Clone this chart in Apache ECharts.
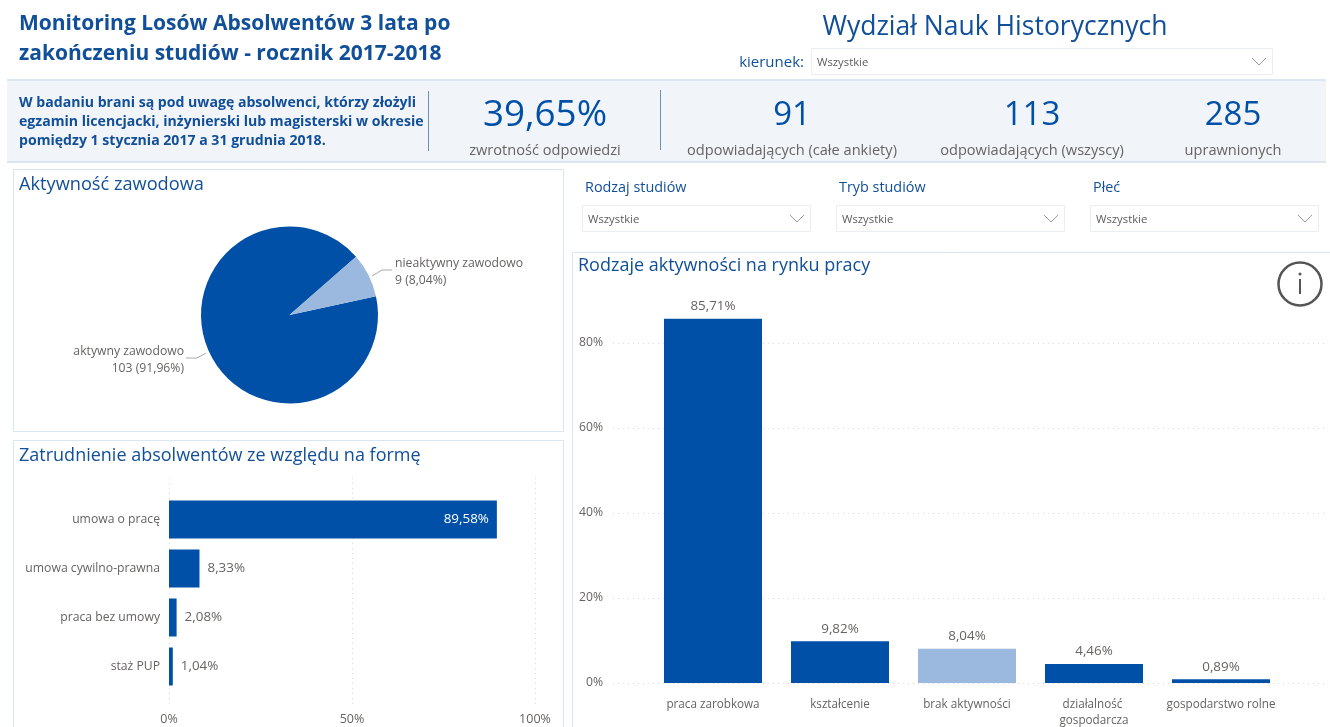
<!DOCTYPE html>
<html lang="pl"><head><meta charset="utf-8">
<style>html,body{margin:0;padding:0;background:#fff}#c{width:1330px;height:727px}</style>
<script src="https://cdn.jsdelivr.net/npm/echarts@6/dist/echarts.min.js"></script>
</head><body><div id="c"></div>
<script>
const pieNames = ['aktywny zawodowo', 'nieaktywny zawodowo'];
const pieValues = [103, 9];
const formCategories = ['umowa o pracę', 'umowa cywilno-prawna', 'praca bez umowy', 'staż PUP'];
const formValues = [89.58, 8.33, 2.08, 1.04];
const activityCategories = ['praca zarobkowa', 'kształcenie', 'brak aktywności', 'działalność gospodarcza', 'gospodarstwo rolne'];
const activityValues = [85.71, 9.82, 8.04, 4.46, 0.89];
const kpis = [['39,65%', 'zwrotność odpowiedzi', 545], ['91', 'odpowiadających (całe ankiety)', 792], ['113', 'odpowiadających (wszyscy)', 1032], ['285', 'uprawnionych', 1233]];
const slicers = [['Rodzaj studiów', 582], ['Tryb studiów', 836], ['Płeć', 1090]];

const FONT = '"Open Sans", "Noto Sans", sans-serif';
const NAVY = '#0050a8', LIGHT = '#9bb9de', TITLE = '#114f98', GRAY = '#666462', EDGE = '#d8e5f2';
const pct = v => v.toFixed(2).replace('.', ',') + '%';
const txt = (x, y, t, size, fill, extra) => ({type: 'text', z: 5, style: Object.assign({x, y, text: t, fontFamily: FONT, fontSize: size, fill, textVerticalAlign: 'middle', verticalAlign: 'middle'}, extra || {})});
const box = (x, y, w, h, fill, stroke, lw) => ({type: 'rect', z: -1, shape: {x, y, width: w, height: h}, style: {fill: fill || 'none', stroke: stroke || 'none', lineWidth: lw || 1}});
const chevron = (x, y) => ({type: 'polyline', z: 5, shape: {points: [[x, y], [x + 7, y + 7], [x + 14, y]]}, style: {fill: 'none', stroke: '#9a9a9a', lineWidth: 1}});
const dropdown = (x, y, w) => [box(x + .5, y + .5, w, 26, '#fff', '#eaeef3'), txt(x + 6, y + 14.5, 'Wszystkie', 11.3, '#5c5c5c'), chevron(x + w - 20, y + 10)];

const g = [
  box(7, 80, 1319, 82, '#f1f5fa'),
  box(7, 79, 1319, 2, '#dce6f1'), box(7, 161, 1319, 2, '#dce6f1'),
  box(13.5, 169.5, 550, 262, '#fff', EDGE), box(13.5, 440.5, 550, 300, '#fff', EDGE), box(572.5, 252.5, 770, 500, '#fff', EDGE),
  txt(19, 24, 'Monitoring Losów Absolwentów 3 lata po', 21, TITLE, {fontWeight: 'bold'}),
  txt(19, 54, 'zakończeniu studiów - rocznik 2017-2018', 21, TITLE, {fontWeight: 'bold'}),
  txt(995, 27, 'Wydział Nauk Historycznych', 26.5, TITLE, {textAlign: 'center', align: 'center'}),
  txt(804, 63, 'kierunek:', 15, TITLE, {textAlign: 'right', align: 'right'}),
  ...dropdown(811, 48, 461),
  txt(19, 102.5, 'W badaniu brani są pod uwagę absolwenci, którzy złożyli', 14.1, TITLE, {fontWeight: 'bold'}),
  txt(19, 122, 'egzamin licencjacki, inżynierski lub magisterski w okresie', 14.1, TITLE, {fontWeight: 'bold'}),
  txt(19, 141, 'pomiędzy 1 stycznia 2017 a 31 grudnia 2018.', 14.1, TITLE, {fontWeight: 'bold'}),
  box(428, 91, 1, 60, '#6d8fb8'), box(660, 90, 1, 60, '#6d8fb8'),
  ...kpis.flatMap(k => [
    txt(k[2], 115.5, k[0], k[0].length > 3 ? 36.8 : 33, NAVY, {textAlign: 'center', align: 'center'}),
    txt(k[2], 150.5, k[1], 14.6, GRAY, {textAlign: 'center', align: 'center'})]),
  txt(19, 185, 'Aktywność zawodowa', 18.2, TITLE),
  txt(19, 456, 'Zatrudnienie absolwentów ze względu na formę', 18, TITLE),
  txt(578, 266, 'Rodzaje aktywności na rynku pracy', 18, TITLE),
  ...slicers.flatMap(s => [txt(s[1] + 3, 187.5, s[0], 14.4, TITLE), ...dropdown(s[1], 205, 228)]),
  {type: 'circle', z: 5, shape: {cx: 1300, cy: 284, r: 21.5}, style: {fill: 'none', stroke: '#555', lineWidth: 2.5}},
  {type: 'rect', z: 5, shape: {x: 1299, y: 279, width: 2, height: 15}, style: {fill: '#555'}},
  {type: 'circle', z: 5, shape: {cx: 1300, cy: 274, r: 1.5}, style: {fill: '#555'}}
];

const dotted = {show: true, lineStyle: {type: [1, 4], color: '#d8d8d8', width: 1}};
const gridBase = {outerBoundsMode: 'none', containLabel: false};
const option = {
  animation: false,
  textStyle: {fontFamily: FONT},
  graphic: {elements: g},
  grid: [
    {...gridBase, left: 169, width: 366, top: 478, height: 230},
    {...gridBase, left: 169, width: 366, top: 495, height: 196},
    {...gridBase, left: 613, width: 712, top: 300.5, height: 382.5},
    {...gridBase, left: 649.5, width: 635, top: 300.5, height: 382.5}
  ],
  xAxis: [
    {gridIndex: 0, type: 'value', min: 0, max: 100, interval: 50, splitLine: dotted, axisLine: {show: false}, axisTick: {show: false},
     axisLabel: {color: GRAY, fontSize: 12.5, margin: 5, formatter: '{value}%'}},
    {gridIndex: 1, type: 'value', min: 0, max: 100, show: false},
    {gridIndex: 2, type: 'category', data: [''], show: false},
    {gridIndex: 3, type: 'category', data: activityCategories, axisLine: {show: false}, axisTick: {show: false},
     axisLabel: {color: GRAY, fontSize: 11.7, margin: 13, interval: 0, lineHeight: 16.5, width: 115, overflow: 'break'}}
  ],
  yAxis: [
    {gridIndex: 0, type: 'value', min: 0, max: 1, show: false},
    {gridIndex: 1, type: 'category', inverse: true, data: formCategories, axisLine: {show: false}, axisTick: {show: false},
     axisLabel: {color: GRAY, fontSize: 12.2, margin: 9, padding: [0, 0, 3, 0]}},
    {gridIndex: 2, type: 'value', min: 0, max: 90, interval: 20, splitLine: Object.assign({showMaxLine: false}, dotted), axisLine: {show: false}, axisTick: {show: false},
     axisLabel: {color: GRAY, fontSize: 12.2, margin: 10, showMaxLabel: false, formatter: '{value}%'}},
    {gridIndex: 3, type: 'value', min: 0, max: 90, show: false}
  ],
  series: [
    {type: 'pie', center: [289.5, 315], radius: 88.5, startAngle: 12.3, silent: true,
     data: pieNames.map((n, i) => ({name: n, value: pieValues[i], itemStyle: {color: i ? LIGHT : NAVY}})),
     label: {color: GRAY, fontSize: 12.2, lineHeight: 17,
       formatter: p => p.name + '\n' + p.value + ' (' + p.percent.toFixed(2).replace('.', ',') + '%)'},
     labelLine: {lineStyle: {color: '#aaa', width: 1}},
     labelLayout: p => p.dataIndex === 0
       ? {x: 184, y: 360, align: 'right', verticalAlign: 'middle', labelLinePoints: [[186, 358], [197, 358], [206, 353]]}
       : {x: 395, y: 272, align: 'left', verticalAlign: 'middle', labelLinePoints: [[392, 270], [382, 270], [372, 276]]}
    },
    {type: 'bar', xAxisIndex: 1, yAxisIndex: 1, barWidth: 38, itemStyle: {color: NAVY},
     data: formValues.map((v, i) => ({value: v, label: i === 0
       ? {position: 'insideRight', color: '#fff', distance: 8}
       : {position: 'right', color: GRAY, distance: 8}})),
     label: {show: true, fontSize: 13.4, padding: [0, 0, 2, 0], formatter: p => pct(p.value)}},
    {type: 'bar', xAxisIndex: 3, yAxisIndex: 3, barWidth: 98,
     data: activityValues.map((v, i) => ({value: v, itemStyle: {color: i === 2 ? LIGHT : NAVY}})),
     label: {show: true, position: 'top', color: GRAY, fontSize: 13.4, distance: 6, formatter: p => pct(p.value)}}
  ]
};
echarts.init(document.getElementById('c')).setOption(option);
</script></body></html>
